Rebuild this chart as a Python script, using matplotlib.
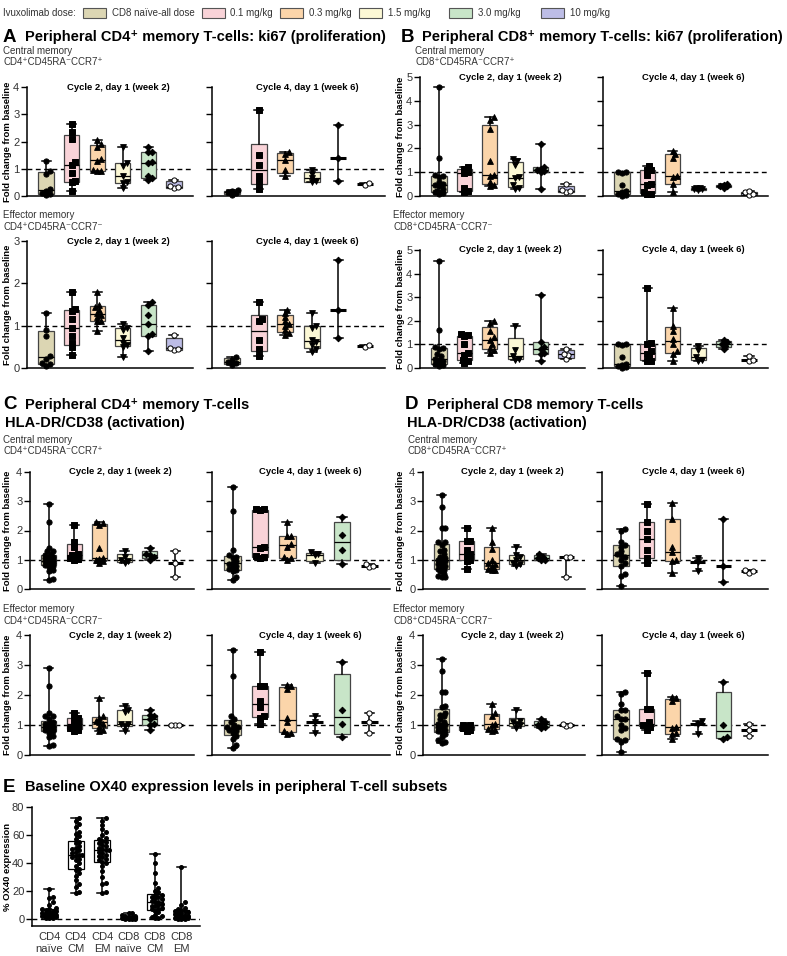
import numpy as np
import matplotlib
matplotlib.use('Agg')
import matplotlib.pyplot as plt
from matplotlib.patches import Rectangle

plt.rcParams['font.family'] = ['Liberation Sans', 'DejaVu Sans']

W, H = 787, 956

# ---- groups / styling ----
doses = ['CD8 naïve-all dose', '0.1 mg/kg', '0.3 mg/kg', '1.5 mg/kg', '3.0 mg/kg', '10 mg/kg']
dose_colors = ['#dcd6b3', '#f9d3d8', '#fbd5aa', '#fcf8d5', '#c8e5c8', '#bdbde6']
dose_markers = ['o', 's', '^', 'v', 'D', 'o']
dose_faces = ['k', 'k', 'k', 'k', 'k', 'white']
dose_sizes = [14, 14, 17, 17, 11, 14]

# ---- panel A: CD4 ki67 ----
a_cm_wk2 = [[0.04, 0.08, 0.12, 0.2, 0.25, 0.8, 0.9, 1.3],
            [0.2, 0.5, 0.55, 0.85, 1.15, 1.25, 2.1, 2.35, 2.65],
            [0.9, 0.92, 0.97, 1.28, 1.35, 1.78, 1.9, 2.05],
            [0.3, 0.48, 0.52, 0.72, 1.1, 1.2, 1.8],
            [0.6, 0.65, 0.75, 1.2, 1.25, 1.6, 1.62, 1.78],
            [0.28, 0.32, 0.36, 0.6]]
a_cm_wk6 = [[0.05, 0.1, 0.15, 0.18, 0.22],
            [0.25, 0.5, 0.75, 1.15, 1.5, 3.15],
            [0.75, 0.95, 1.32, 1.55, 1.6],
            [0.5, 0.55, 0.65, 0.8, 0.95],
            [0.55, 1.4, 2.6],
            [0.42, 0.47]]
a_em_wk2 = [[0.05, 0.1, 0.12, 0.22, 0.28, 0.75, 0.9, 1.3],
            [0.3, 0.5, 0.6, 0.75, 0.95, 1.15, 1.35, 1.4, 1.8],
            [0.88, 1.1, 1.12, 1.2, 1.25, 1.3, 1.38, 1.45, 1.5, 1.8],
            [0.25, 0.5, 0.55, 0.6, 0.7, 0.9, 0.95, 1.05],
            [0.4, 0.75, 0.8, 1.05, 1.25, 1.5, 1.55],
            [0.42, 0.45, 0.48, 0.78]]
a_em_wk6 = [[0.08, 0.12, 0.15, 0.2, 0.25],
            [0.28, 0.45, 0.65, 1.1, 1.15, 1.55],
            [0.78, 0.82, 0.9, 1.0, 1.05, 1.1, 1.2, 1.3, 1.38],
            [0.38, 0.45, 0.55, 0.62, 0.65, 0.95, 1.0, 1.3],
            [0.72, 1.38, 2.55],
            [0.5, 0.55]]

# ---- panel B: CD8 ki67 ----
b_cm_wk2 = [[0.1, 0.12, 0.15, 0.18, 0.2, 0.3, 0.4, 0.45, 0.5, 0.6, 0.8, 0.85, 0.9, 1.6, 4.6],
            [0.15, 0.2, 0.35, 0.95, 1.0, 1.15, 1.2],
            [0.4, 0.45, 0.6, 0.85, 0.9, 1.45, 2.8, 3.2, 3.3],
            [0.3, 0.35, 0.45, 0.75, 0.8, 1.3, 1.45, 1.55],
            [0.3, 1.0, 1.05, 1.1, 1.15, 1.2, 2.2],
            [0.15, 0.2, 0.25, 0.5]]
b_cm_wk6 = [[0.0, 0.05, 0.1, 0.15, 0.2, 0.45, 0.98, 1.0, 1.0],
            [0.1, 0.1, 0.15, 0.45, 0.5, 0.9, 1.1, 1.1, 1.25],
            [0.15, 0.5, 0.8, 0.85, 1.6, 1.75, 1.9],
            [0.25, 0.28, 0.3, 0.32, 0.35],
            [0.35, 0.4, 0.42, 0.45, 0.5],
            [0.05, 0.1, 0.15, 0.2]]
b_em_wk2 = [[0.1, 0.12, 0.15, 0.18, 0.2, 0.3, 0.35, 0.4, 0.5, 0.6, 0.8, 0.85, 0.88, 1.6, 4.55],
            [0.2, 0.3, 0.35, 0.55, 0.65, 1.0, 1.35, 1.4, 1.45],
            [0.65, 0.75, 0.85, 1.0, 1.2, 1.3, 1.55, 1.9, 2.0],
            [0.35, 0.4, 0.5, 0.75, 1.8],
            [0.3, 0.6, 0.65, 0.8, 0.9, 1.1, 3.1],
            [0.4, 0.55, 0.6, 0.8]]
b_em_wk6 = [[0.0, 0.05, 0.1, 0.12, 0.15, 0.45, 0.98, 1.0, 1.0],
            [0.3, 0.3, 0.45, 0.6, 0.7, 1.0, 1.05, 3.4],
            [0.3, 0.6, 0.7, 1.0, 1.25, 1.55, 1.8, 2.55],
            [0.3, 0.35, 0.45, 0.75, 0.95],
            [0.8, 0.95, 1.0, 1.1, 1.2],
            [0.3, 0.35, 0.5]]

# ---- panel C: CD4 HLA-DR/CD38 ----
c_cm_wk2 = [[0.3, 0.35, 0.6, 0.65, 0.75, 0.8, 0.82, 0.85, 0.88, 0.9, 0.92, 0.95, 0.95, 0.98,
             1.0, 1.02, 1.05, 1.1, 1.1, 1.15, 1.2, 1.3, 1.3, 1.4, 2.3, 2.9],
            [1.0, 1.02, 1.05, 1.1, 1.15, 1.2, 1.45, 1.6, 2.2],
            [0.9, 0.95, 1.0, 1.02, 1.05, 1.4, 2.2, 2.25, 2.3],
            [0.9, 0.95, 1.0, 1.1, 1.3],
            [1.0, 1.1, 1.15, 1.2, 1.4],
            [0.4, 0.9, 1.3]]
c_cm_wk6 = [[0.3, 0.4, 0.6, 0.65, 0.7, 0.75, 0.8, 0.85, 0.9, 0.95, 1.05, 1.1, 1.15, 1.35, 2.65, 3.5],
            [1.05, 1.1, 1.12, 1.4, 1.45, 2.7, 2.72, 2.75],
            [1.0, 1.05, 1.1, 1.45, 1.55, 1.8, 1.8, 2.3],
            [0.9, 1.15, 1.2, 1.25],
            [0.85, 1.35, 1.85, 2.45],
            [0.75, 0.8, 0.85]]
c_em_wk2 = [[0.3, 0.35, 0.6, 0.65, 0.75, 0.8, 0.82, 0.85, 0.88, 0.9, 0.92, 0.95, 0.95, 0.98,
             1.0, 1.02, 1.05, 1.05, 1.1, 1.2, 1.3, 1.3, 1.4, 2.3, 2.9],
            [0.8, 0.85, 0.9, 1.0, 1.05, 1.2, 1.25, 1.4],
            [0.8, 0.85, 0.95, 1.05, 1.1, 1.15, 1.25, 1.3, 1.9],
            [0.8, 0.98, 1.02, 1.05, 1.45, 1.5, 1.65],
            [0.85, 1.0, 1.05, 1.2, 1.3, 1.35, 1.5],
            [1.0, 1.0, 1.0]]
c_em_wk6 = [[0.25, 0.35, 0.55, 0.65, 0.75, 0.8, 0.85, 0.9, 0.92, 0.95, 1.0, 1.1, 1.2, 1.3, 2.65, 3.5],
            [1.05, 1.25, 1.3, 1.6, 1.8, 2.3, 2.3, 3.45],
            [0.7, 0.75, 0.8, 1.1, 1.25, 2.2, 2.3, 2.35],
            [0.75, 1.1, 1.3],
            [0.6, 1.05, 1.5, 3.1],
            [0.75, 1.1, 1.4]]

# ---- panel D: CD8 HLA-DR/CD38 ----
d_cm_wk2 = [[0.4, 0.4, 0.45, 0.5, 0.6, 0.65, 0.7, 0.75, 0.8, 0.85, 0.9, 0.95, 1.0, 1.0,
             1.05, 1.1, 1.2, 1.3, 1.35, 1.5, 1.6, 1.6, 2.1, 2.1, 2.8, 3.2],
            [0.7, 0.95, 1.0, 1.15, 1.2, 1.35, 1.65, 1.65, 2.1],
            [0.65, 0.65, 0.7, 0.8, 0.85, 0.9, 1.0, 1.38, 1.6, 2.1],
            [0.8, 0.85, 0.9, 1.0, 1.1, 1.15, 1.45],
            [1.0, 1.0, 1.05, 1.1, 1.2],
            [0.4, 1.08, 1.1]]
d_cm_wk6 = [[0.1, 0.45, 0.5, 0.8, 0.9, 1.0, 1.1, 1.15, 1.2, 1.3, 1.45, 1.5, 1.6, 2.0, 2.05],
            [0.9, 1.05, 1.35, 1.7, 2.0, 2.3, 2.9],
            [0.55, 0.95, 1.0, 1.28, 1.45, 2.4, 2.95],
            [0.6, 0.92, 1.05],
            [0.25, 0.8, 2.4],
            [0.55, 0.62, 0.65]]
d_em_wk2 = [[0.4, 0.45, 0.5, 0.6, 0.7, 0.75, 0.8, 0.85, 0.9, 0.95, 1.0, 1.0, 1.05, 1.1,
             1.2, 1.3, 1.35, 1.4, 1.6, 1.65, 2.1, 2.1, 2.8, 3.2],
            [0.8, 0.85, 0.9, 0.95, 1.0, 1.0],
            [0.8, 0.85, 0.88, 1.0, 1.05, 1.3, 1.4, 1.7],
            [0.9, 1.0, 1.05, 1.1, 1.15, 1.5],
            [0.9, 0.95, 1.0, 1.05, 1.1, 1.2],
            [0.98, 1.0, 1.05]]
d_em_wk6 = [[0.1, 0.45, 0.5, 0.55, 0.85, 0.9, 1.0, 1.2, 1.2, 1.3, 1.5, 1.5, 1.7, 2.05, 2.1],
            [0.85, 0.95, 0.98, 1.0, 1.1, 1.55, 1.55, 2.75],
            [0.55, 0.7, 0.75, 0.9, 0.95, 1.8, 1.9, 1.95],
            [0.7, 1.05, 1.15],
            [0.55, 0.6, 1.0, 2.45],
            [0.65, 0.85, 1.05]]

# ---- panel E: baseline OX40 ----
ox40_labels = ['CD4\nnaïve', 'CD4\nCM', 'CD4\nEM', 'CD8\nnaïve', 'CD8\nCM', 'CD8\nEM']
ox40_cd4_naive = [0.5, 1, 1, 1.5, 2, 2, 2.5, 2.5, 3, 3, 3, 3.5, 4, 4, 5, 5.5, 6, 6.5, 7, 7,
                  8, 10, 12, 15, 16, 21.5]
ox40_cd4_cm = [18.5, 19.5, 23, 25, 28, 31, 33, 35, 36, 38, 40, 42, 43, 44, 45, 46, 46, 47, 48,
               49, 50, 51, 52, 54, 55, 57, 59, 61, 62, 66, 68, 70, 72]
ox40_cd4_em = [18.5, 19, 25, 26, 30, 34, 38, 40, 41, 42, 43, 44, 45, 46, 47, 48, 49, 49, 50, 51,
               52, 53, 54, 55, 56, 57, 58, 60, 62, 64, 67, 70, 72]
ox40_cd8_naive = [0, 0, 0.2, 0.3, 0.5, 0.5, 0.8, 1, 1, 1.2, 1.5, 2, 2.5, 3, 4, 4.5]
ox40_cd8_cm = [0.5, 1, 1.5, 2, 3, 5, 6, 7, 7.5, 8, 9, 9.5, 10, 11, 12, 12.5, 13, 14, 15, 15.5,
               16, 17, 17.5, 19, 20, 22, 26, 33, 40, 46.5]
ox40_cd8_em = [0, 0, 0.3, 0.5, 0.5, 1, 1, 1.5, 2, 2, 2.5, 3, 3, 3.5, 4, 4, 5, 5.5, 6, 6.5, 7,
               8, 10, 12, 37]

fig = plt.figure(figsize=(W / 100, H / 100), dpi=100)


def rect(l, t, r, b):
    return [l / W, 1 - b / H, (r - l) / W, (b - t) / H]


def ftext(x, y, s, **kw):
    return fig.text(x / W, 1 - y / H, s, **kw)


def swarm(vals, sx, sy, d, cap):
    # deterministic beeswarm offsets, limited to +-cap (data units)
    vals = np.asarray(vals, float)
    offs = np.zeros(len(vals))
    placed = []
    cap_px = cap * sx
    step = d * 0.5
    for i in np.argsort(vals, kind='stable'):
        y = vals[i] * sy
        best, best_o = -1.0, 0.0
        k = 0
        while True:
            o = ((k + 1) // 2) * (1 if k % 2 else -1) * step
            if abs(o) > cap_px:
                break
            md = min([np.hypot(o - px, y - py) for px, py in placed], default=1e9)
            if md >= d:
                best_o = o
                break
            if md > best:
                best, best_o = md, o
            k += 1
        placed.append((best_o, y))
        offs[i] = best_o / sx
    return offs


def draw_group(ax, vals, pos, face, edge, marker, mface, size, sx, sy, d, cap, boxed=None):
    v = np.asarray(vals, float)
    q1, med, q3 = np.percentile(v, [25, 50, 75], method='weibull')
    if boxed is None:
        boxed = len(v) > 3
    if not boxed:
        q1 = q3 = med
    stats = [dict(med=med, q1=q1, q3=q3, whislo=v.min(), whishi=v.max(), fliers=[])]
    ax.bxp(stats, positions=[pos], widths=0.6, capwidths=0.36, patch_artist=True,
           showfliers=False, manage_ticks=False,
           boxprops=dict(facecolor=face if boxed else 'none',
                         edgecolor=edge if boxed else 'none', lw=0.9),
           medianprops=dict(color='k', lw=0.9 if boxed else 2.2, solid_capstyle='butt'),
           whiskerprops=dict(color='k', lw=1.1), capprops=dict(color='k', lw=1.1))
    offs = swarm(v, sx, sy, d, cap)
    ax.scatter(pos + offs, v, s=size, marker=marker, facecolors=mface, edgecolors='k',
               linewidths=0.7, zorder=4, clip_on=False)


XR = (-0.75, 5.75)


def small_panel(box, data, ymax, show_labels):
    l, t, r, b = box
    ax = fig.add_axes(rect(l, t, r, b))
    ax.set_xlim(XR)
    ax.set_ylim(0, ymax)
    sx = (r - l) / (XR[1] - XR[0])
    sy = (b - t) / ymax
    ax.axhline(1, color='k', lw=1, ls=(0, (3.5, 2.5)), zorder=1)
    for i, vals in enumerate(data):
        draw_group(ax, vals, i, dose_colors[i], '#444444', dose_markers[i], dose_faces[i],
                   dose_sizes[i], sx, sy, 3.8, 0.22)
    for s in ['top', 'right']:
        ax.spines[s].set_visible(False)
    for s in ['left', 'bottom']:
        ax.spines[s].set_linewidth(1.1)
    ax.set_xticks([])
    ax.set_yticks(range(0, ymax + 1))
    ax.tick_params(axis='y', length=4, width=1, labelsize=8, labelcolor='#333333', pad=1.5)
    if not show_labels:
        ax.set_yticklabels([])
    return ax


def sub_title(ax, wk):
    txt = 'Cycle 2, day 1 (week 2)' if wk == 2 else 'Cycle 4, day 1 (week 6)'
    ax.text(0.55, 1.0, txt, transform=ax.transAxes, ha='center', va='center',
            fontsize=6.8, fontweight='bold')


def ylab(x, t, b, s='Fold change from baseline'):
    ftext(x, (t + b) / 2, s, rotation=90, ha='center', va='center', fontsize=6.8,
          fontweight='bold')


# ---- legend (patches placed after the preceding text) ----
renderer = fig.canvas.get_renderer()
lead = ftext(3, 13, 'Ivuxolimab dose:', fontsize=7, color='#333333', va='center')
prev_end = lead.get_window_extent(renderer).x1
leg_x = [76, 178, 266, 357, 449, 541]
for i, lab in enumerate(doses):
    px = max(leg_x[i], prev_end + 7)
    fig.add_artist(Rectangle((px / W, 1 - 18 / H), 23 / W, 10 / H,
                             transform=fig.transFigure, facecolor=dose_colors[i],
                             edgecolor='#555555', lw=0.8))
    t = ftext(px + 29, 13, lab, fontsize=7, color='#333333', va='center')
    prev_end = t.get_window_extent(renderer).x1

# ---- panel layouts ----
panels = [
    dict(letter='A', lx=3, tx=25, title=['Peripheral CD4⁺ memory T-cells: ki67 (proliferation)'],
         ty=37, cmx=3, emx=3, cmy=51, emy=215, cell='CD4', ylx=8,
         axes=[((27, 87, 193, 196), a_cm_wk2, 4, 2), ((212, 87, 385, 196), a_cm_wk6, 4, 6),
               ((27, 241, 193, 368), a_em_wk2, 3, 2), ((212, 241, 385, 368), a_em_wk6, 3, 6)]),
    dict(letter='B', lx=401, tx=422, title=['Peripheral CD8⁺ memory T-cells: ki67 (proliferation)'],
         ty=37, cmx=415, emx=393, cmy=51, emy=215, cell='CD8', ylx=401,
         axes=[((420, 77, 585, 196), b_cm_wk2, 5, 2), ((603, 77, 768, 196), b_cm_wk6, 5, 6),
               ((420, 250, 585, 368), b_em_wk2, 5, 2), ((603, 250, 768, 368), b_em_wk6, 5, 6)]),
    dict(letter='C', lx=3, tx=25, title=['Peripheral CD4⁺ memory T-cells', 'HLA-DR/CD38 (activation)'],
         ty=405, cmx=3, emx=3, cmy=440, emy=609, cell='CD4', ylx=8,
         axes=[((30, 472, 194, 589), c_cm_wk2, 4, 2), ((212, 472, 390, 589), c_cm_wk6, 4, 6),
               ((30, 635, 194, 755), c_em_wk2, 4, 2), ((212, 635, 390, 755), c_em_wk6, 4, 6)]),
    dict(letter='D', lx=405, tx=427, title=['Peripheral CD8 memory T-cells', 'HLA-DR/CD38 (activation)'],
         ty=405, cmx=408, emx=393, cmy=440, emy=609, cell='CD8', ylx=401,
         axes=[((423, 472, 585, 589), d_cm_wk2, 4, 2), ((602, 472, 768, 589), d_cm_wk6, 4, 6),
               ((423, 635, 585, 755), d_em_wk2, 4, 2), ((602, 635, 768, 755), d_em_wk6, 4, 6)]),
]

for p in panels:
    ftext(p['lx'], p['ty'], p['letter'], fontsize=13.5, fontweight='bold', va='center')
    ftext(p['tx'], p['ty'] + 0.5, p['title'][0], fontsize=10.5, fontweight='bold', va='center')
    cm_y = p['cmy']
    if len(p['title']) > 1:
        ftext(p['lx'] + 2, p['ty'] + 18, p['title'][1], fontsize=10.5, fontweight='bold',
              va='center')
    ftext(p['cmx'], cm_y, 'Central memory', fontsize=7, color='#333333', va='center')
    ftext(p['cmx'], cm_y + 11, p['cell'] + '⁺CD45RA⁻CCR7⁺', fontsize=7, color='#333333',
          va='center')
    ftext(p['emx'], p['emy'], 'Effector memory', fontsize=7, color='#333333', va='center')
    ftext(p['emx'], p['emy'] + 12, p['cell'] + '⁺CD45RA⁻CCR7⁻', fontsize=7, color='#333333',
          va='center')
    for box, data, ymax, wk in p['axes']:
        ax = small_panel(box, data, ymax, wk == 2)
        sub_title(ax, wk)
        if wk == 2:
            ylab(p['ylx'], box[1], box[3])

# ---- panel E ----
ftext(3, 787, 'E', fontsize=13.5, fontweight='bold', va='center')
ftext(25, 787.5, 'Baseline OX40 expression levels in peripheral T-cell subsets', fontsize=10.5,
      fontweight='bold', va='center')
ox40_data = [ox40_cd4_naive, ox40_cd4_cm, ox40_cd4_em, ox40_cd8_naive, ox40_cd8_cm, ox40_cd8_em]
el, et, er, eb = 32, 807, 200, 926
axe = fig.add_axes(rect(el, et, er, eb))
EX = (-0.65, 5.7)
axe.set_xlim(EX)
axe.set_ylim(-5, 80)
sx = (er - el) / (EX[1] - EX[0])
sy = (eb - et) / 85
axe.axhline(0, color='k', lw=1, ls=(0, (3.5, 2.5)), zorder=1)
for i, vals in enumerate(ox40_data):
    draw_group(axe, vals, i, 'white', 'k', 'o', 'k', 8, sx, sy, 3.4, 0.26, boxed=True)
for s in ['top', 'right']:
    axe.spines[s].set_visible(False)
for s in ['left', 'bottom']:
    axe.spines[s].set_linewidth(1.1)
axe.set_yticks([0, 20, 40, 60, 80])
axe.set_xticks(range(6))
axe.set_xticklabels(ox40_labels, fontsize=8, color='#333333', linespacing=1.3)
axe.tick_params(axis='x', length=0, pad=4)
axe.tick_params(axis='y', length=4, width=1, labelsize=8, labelcolor='#333333', pad=1.5)
ylab(8, et, eb, '% OX40 expression')

fig.savefig('out.png', dpi=100)
